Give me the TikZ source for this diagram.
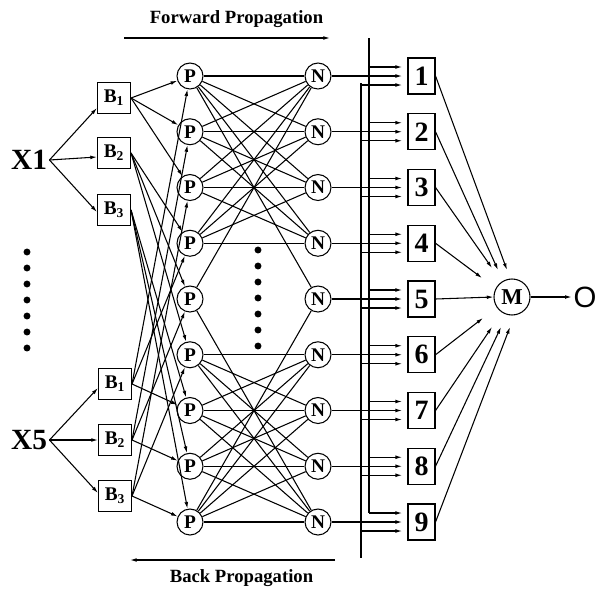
\documentclass[tikz,border=0pt]{standalone}
\usepackage{fontspec}
\setmainfont{Liberation Serif}
\newfontfamily\outfont{Liberation Sans}
\usetikzlibrary{arrows.meta}

\begin{document}
\begin{tikzpicture}[x=0.75pt,y=-0.75pt,
  line width=0.8pt,
  tip/.style={-{Latex[length=5pt,width=2.8pt]}},
  inlabel/.style={font=\fontsize{22}{22}\selectfont\bfseries,inner sep=1.5pt},
  mfbox/.style={draw,minimum width=24.75pt,minimum height=23.25pt,inner sep=0pt,
    font=\fontsize{14.5}{14.5}\selectfont\bfseries},
  rulenode/.style={draw,circle,minimum size=19.5pt,inner sep=0pt,
    font=\fontsize{14.5}{14.5}\selectfont\bfseries},
  outbox/.style={draw,minimum width=20.25pt,minimum height=27pt,inner sep=0pt,
    font=\fontsize{21}{21}\selectfont\bfseries},
  sumnode/.style={draw,circle,minimum size=27pt,inner sep=0pt,
    font=\fontsize{17}{17}\selectfont\bfseries},
  caption/.style={font=\fontsize{14}{14}\selectfont\bfseries},
  dot/.style={fill,circle,inner sep=0pt,minimum size=5.2pt}]
\useasboundingbox (0,0) rectangle (596,590);

% propagation directions
\node[caption] (fwd) at (236.5,19) {Forward Propagation};
\coordinate (fwdA) at (124,38);
\coordinate (fwdB) at (330,38);
\draw[tip] (fwdA) -- (fwdB);
\node[caption] (bwd) at (241.5,578) {Back Propagation};
\coordinate (bwdA) at (335,560);
\coordinate (bwdB) at (130,560);
\draw[tip] (bwdA) -- (bwdB);

% inputs
\node[inlabel] (x1) at (29,160) {X1};
\node[inlabel] (x5) at (29,440) {X5};
\foreach \y in {252,268,284,300,316,332,348}
  \node[dot] at (27,\y) {};

% membership functions
\node[mfbox] (a1) at (114,98)  {B\textsubscript{1}};
\node[mfbox] (a2) at (114,153) {B\textsubscript{2}};
\node[mfbox] (a3) at (114,210) {B\textsubscript{3}};
\node[mfbox] (c1) at (115,384) {B\textsubscript{1}};
\node[mfbox] (c2) at (115,440) {B\textsubscript{2}};
\node[mfbox] (c3) at (115,496) {B\textsubscript{3}};
\draw[tip] (x1.east) -- ([yshift=-7.5pt]a1.west);
\draw[tip] (x1.east) -- ([yshift=-3pt]a2.west);
\draw[tip] (x1.east) -- ([yshift=-1.5pt]a3.west);
\draw[tip] (x5.east) -- ([yshift=-3pt]c1.west);
\draw[tip] (x5.east) -- (c2.west);
\draw[tip] (x5.east) -- ([yshift=2.25pt]c3.west);

% rule, normalisation and output layers
\foreach \k in {1,...,9} {
  \pgfmathsetmacro{\yy}{76+(\k-1)*55.75}
  \node[rulenode] (p\k) at (190,\yy) {P};
  \node[rulenode] (n\k) at (318,\yy) {N};
  \node[outbox]   (o\k) at (421.5,\yy) {\k};
}
\foreach \y in {250,266,282,298,314,330,346}
  \node[dot] at (258,\y) {};

% MF -> rule connections
\foreach \i in {1,2,3} {
  \foreach \j in {1,2,3} {
    \pgfmathtruncatemacro{\r}{3*(\i-1)+\j}
    \pgfmathtruncatemacro{\s}{3*(\j-1)+\i}
    \draw[tip] (a\i.east) -- (p\r);
    \draw[tip] (c\i.east) -- (p\s);
  }
}

% rule -> normalisation connections
\foreach \i in {1,...,4}
  \foreach \j in {1,...,4}
    \draw (p\i) -- (n\j);
\foreach \i in {6,...,9}
  \foreach \j in {6,...,9}
    \draw (p\i) -- (n\j);
\draw (p5) -- (n1);
\draw (p1) -- (n5);
\draw (p5) -- (n9);
\draw (p9) -- (n5);

% normalisation -> output boxes with the two buses
\coordinate (busRtop) at (369,38);
\coordinate (busRbot) at (369,513);
\coordinate (busLtop) at (361,83);
\coordinate (busLbot) at (361,558);
\draw (busRtop) -- (busRbot);
\draw (busLtop) -- (busLbot);
\foreach \k in {1,...,9} {
  \draw[tip,shorten >=4pt] (n\k.east) -- (n\k.east -| o\k.west);
  \draw[tip,shorten >=4pt] ([yshift=6.75pt]o\k.west -| busRtop) -- ([yshift=6.75pt]o\k.west);
  \draw[tip,shorten >=4pt] ([yshift=-6.75pt]o\k.west -| busLtop) -- ([yshift=-6.75pt]o\k.west);
}

% aggregation
\node[sumnode] (m) at (512,297) {M};
\coordinate (e1) at (507,270);
\coordinate (e2) at (498,270);
\coordinate (e3) at (492,268);
\coordinate (e4) at (482,278);
\coordinate (e6) at (483,318);
\coordinate (e7) at (492,327);
\coordinate (e8) at (501,327);
\coordinate (e9) at (510,327);
\foreach \k in {1,2,3,4,6,7,8,9}
  \draw[tip] (o\k.east) -- (e\k);
\draw[tip] (o5.east) -- (m.west);
\node[font=\outfont\fontsize{22}{22}\selectfont,inner sep=1pt] (out) at (585,297) {O};
\draw[tip] (m.east) -- (out.west);
\end{tikzpicture}
\end{document}
